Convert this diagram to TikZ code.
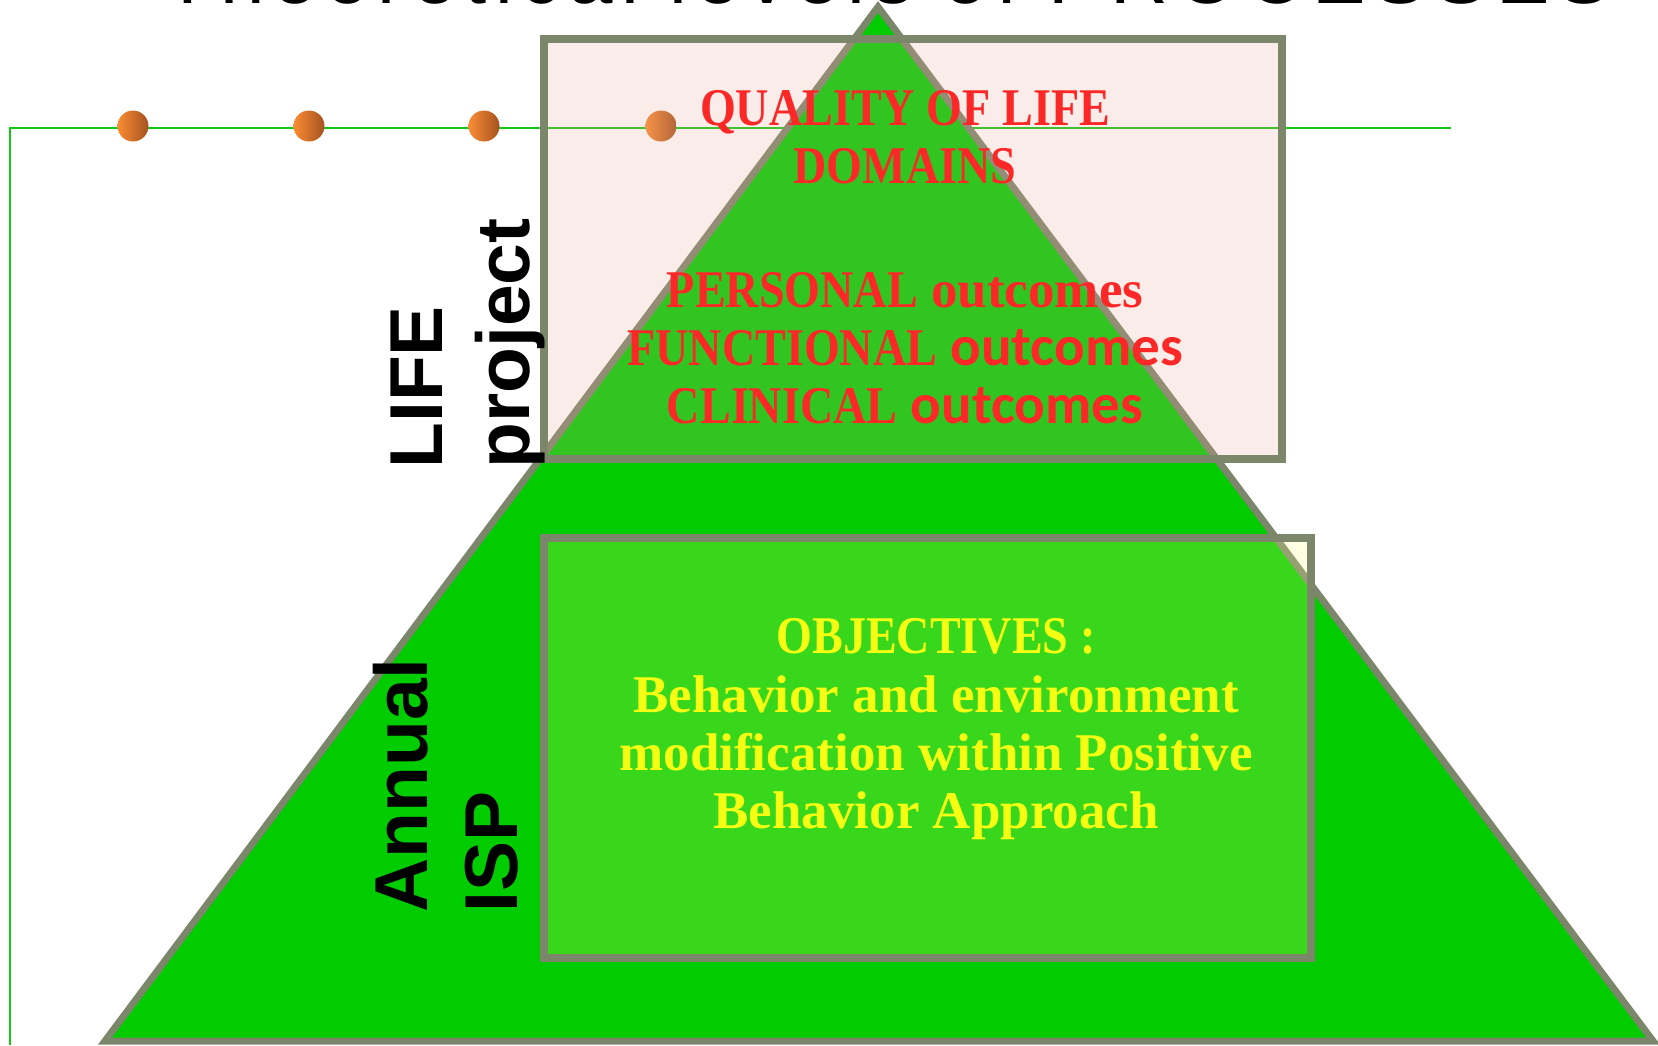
\documentclass[tikz,border=0pt]{standalone}
\usepackage{fontspec}
\setmainfont{Liberation Serif}
\newfontfamily\capsf[FakeStretch=0.87]{Liberation Serif}
\newfontfamily\outf{Carlito}
\newfontfamily\labf{Liberation Sans}
\newfontfamily\titf[LetterSpace=10]{Liberation Sans}
\definecolor{trigreen}{RGB}{0,204,0}
\definecolor{edgegray}{RGB}{123,134,107}
\definecolor{pinkfill}{RGB}{232,170,150}
\definecolor{yelfill}{RGB}{255,255,130}
\definecolor{linegreen}{RGB}{20,200,20}
\definecolor{redtxt}{RGB}{252,40,40}
\definecolor{yeltxt}{RGB}{245,255,20}
\definecolor{dotlight}{RGB}{250,140,52}
\definecolor{dotdark}{RGB}{165,82,32}
\tikzset{
  gline/.style={draw=linegreen, line width=1pt},
  dotnode/.style={circle, minimum size=15.5pt, inner sep=0pt, left color=dotlight, right color=dotdark, draw=none},
  tri/.style={fill=trigreen, draw=edgegray, line width=3.5pt, line join=miter},
  boxedge/.style={draw=edgegray, line width=4pt},
  qolfill/.style={fill=pinkfill, fill opacity=0.22},
  objfill/.style={fill=yelfill, fill opacity=0.22},
  redline/.style={text=redtxt, anchor=base, inner sep=0pt, font=\bfseries\fontsize{26.5}{30}\selectfont},
  yelline/.style={text=yeltxt, anchor=base, inner sep=0pt, font=\bfseries\fontsize{26.5}{30}\selectfont},
  vlabel/.style={rotate=90, anchor=base west, inner sep=0pt, font=\labf\bfseries\fontsize{37.5}{40}\selectfont},
  titlelabel/.style={anchor=base west, inner sep=0pt, font=\titf\fontsize{40}{44}\selectfont}
}
\begin{document}
\begin{tikzpicture}[x=0.5pt,y=-0.5pt]
\useasboundingbox (0,0) rectangle (1658,1045);
\begin{scope}
\clip (0,0) rectangle (1658,1045);
% title (cut off at top, as in the reference)
\node[titlelabel] (title) at (163,3) {Theoretical levels of PROCESSES};
% green frame lines
\coordinate (lb) at (10,1045);
\coordinate (lc) at (10,128);
\coordinate (lr) at (1451,128);
\draw[gline] (lb) -- (lc) -- (lr);
% dots
\node[dotnode] (d1) at (133,126) {};
\node[dotnode] (d2) at (309,126) {};
\node[dotnode] (d3) at (484,126) {};
\node[dotnode] (d4) at (661,126) {};
% pyramid
\coordinate (apex) at (878,7);
\coordinate (br) at (1653,1041);
\coordinate (bl) at (105,1041);
\path[tri] (apex) -- (br) -- (bl) -- cycle;
% boxes
\coordinate (qa) at (543.5,39);
\coordinate (qb) at (1281.5,459);
\coordinate (oa) at (543.5,538);
\coordinate (ob) at (1311,958);
\path[qolfill] (qa) rectangle (qb);
\path[objfill] (oa) rectangle (ob);
\path[boxedge] (qa) rectangle (qb);
\path[boxedge] (oa) rectangle (ob);
% red text
\node[redline] (q1) at (905,125) {{\capsf QUALITY OF LIFE}};
\node[redline] (q2) at (905,183) {{\capsf DOMAINS}};
\node[redline] (p1) at (905,307) {{\capsf PERSONAL} outcomes};
\node[redline] (p2) at (905,365) {{\capsf FUNCTIONAL} {\outf\fontsize{28.5}{30}\selectfont outcomes}};
\node[redline] (p3) at (905,423) {{\capsf CLINICAL} {\outf\fontsize{28.5}{30}\selectfont outcomes}};
% yellow text
\node[yelline] (o1) at (936,653) {{\capsf OBJECTIVES :}};
\node[yelline] (o2) at (936,712) {Behavior and environment};
\node[yelline] (o3) at (936,770) {modification within Positive};
\node[yelline] (o4) at (936,828) {Behavior Approach};
% vertical labels
\node[vlabel] (life) at (442,469) {LIFE};
\node[vlabel] (proj) at (529,469) {project};
\node[vlabel] (annual) at (427,913) {Annual};
\node[vlabel] (isp) at (517,913) {ISP};
\end{scope}
\end{tikzpicture}
\end{document}
